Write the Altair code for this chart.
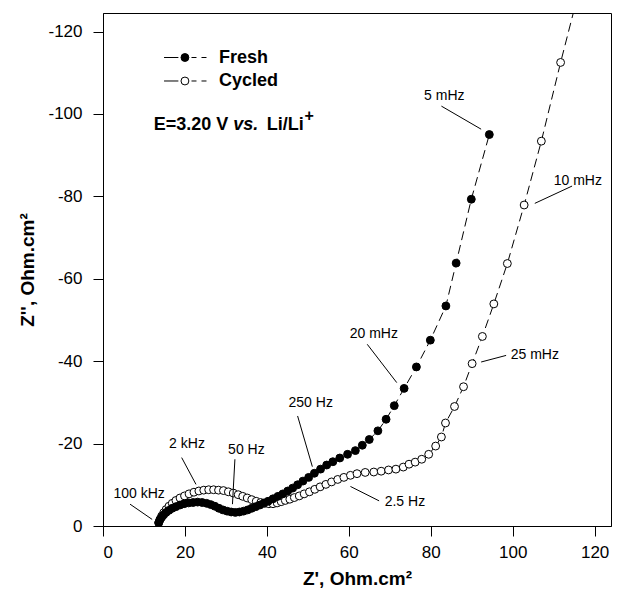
import altair as alt
import pandas as pd

FONT = "Liberation Sans"

# ---- data (Z' , Z'') ----
fresh_x = [13.6, 13.9, 14.3, 14.8, 15.4, 16.1, 16.9, 17.8, 18.8, 19.8, 20.9, 22.0, 23.1, 24.2,
           25.3, 26.3, 27.3, 28.3, 29.3, 30.3, 31.3, 32.3, 33.3, 34.3, 35.3, 36.3, 37.3, 38.3,
           39.3, 40.3, 41.5, 42.7, 43.9, 45.1, 46.3, 47.5, 48.8, 50.2, 51.6, 53.1, 54.6, 56.1,
           57.8, 59.7, 61.6, 63.3, 65.0, 67.1, 69.1, 71.1, 73.5, 76.5, 79.9, 83.7, 86.2, 89.9, 94.3]
fresh_y = [-0.8, -1.5, -2.1, -2.7, -3.3, -3.8, -4.3, -4.7, -5.1, -5.4, -5.6, -5.7, -5.8, -5.7,
           -5.5, -5.2, -4.8, -4.3, -3.9, -3.6, -3.4, -3.3, -3.4, -3.6, -3.9, -4.3, -4.7, -5.1,
           -5.6, -6.0, -6.6, -7.2, -7.8, -8.5, -9.2, -10.0, -10.9, -11.8, -12.8, -13.8, -14.8, -15.6,
           -16.5, -17.4, -18.3, -19.6, -21.0, -23.1, -25.9, -29.2, -33.4, -38.6, -45.1, -53.4, -63.8, -79.3, -95.0]

cycled_x = [13.6, 13.9, 14.3, 14.8, 15.4, 16.1, 16.9, 17.8, 18.8, 19.9, 21.0, 22.2, 23.4, 24.6,
            25.8, 27.0, 28.2, 29.4, 30.6, 31.8, 33.0, 34.1, 35.2, 36.3, 37.4, 38.5, 39.5, 40.5,
            41.5, 42.5, 43.5, 44.5, 45.6, 46.7, 47.9, 49.1, 50.4, 51.7, 53.0, 54.4, 55.8, 57.3,
            58.8, 60.4, 62.0, 64.0, 66.1, 67.9, 69.7, 71.5, 73.3, 74.7, 76.2, 77.8, 79.5, 81.2,
            82.6, 83.6, 85.8, 88.0, 90.1, 92.6, 95.4, 98.7, 102.8, 107.0, 111.7, 117.5]
cycled_y = [-0.8, -1.6, -2.4, -3.2, -4.0, -4.8, -5.5, -6.2, -6.8, -7.3, -7.8, -8.2, -8.5, -8.7,
            -8.8, -8.8, -8.7, -8.6, -8.3, -8.0, -7.6, -7.2, -6.8, -6.4, -6.0, -5.7, -5.5, -5.4,
            -5.4, -5.6, -5.9, -6.2, -6.5, -6.9, -7.3, -7.8, -8.3, -8.9, -9.5, -10.1, -10.7, -11.3,
            -11.8, -12.3, -12.7, -13.0, -13.1, -13.3, -13.6, -13.8, -14.3, -15.0, -15.5, -16.2, -17.4, -19.4,
            -21.6, -25.0, -29.0, -33.8, -39.4, -46.0, -53.9, -63.7, -77.9, -93.4, -112.5, -135.0]

# ---- frequency annotations ----
ann_text = ["5 mHz", "10 mHz", "20 mHz", "25 mHz", "2.5 Hz", "250 Hz", "50 Hz", "2 kHz", "100 kHz"]
ann_x = [83.3, 115.9, 66.1, 105.4, 73.7, 50.7, 35.0, 20.5, 8.8]
ann_y = [-104.3, -83.7, -46.5, -41.4, -5.8, -29.8, -18.4, -19.8, -7.7]
lead_x1 = [82.6, 114.5, 64.5, 98.4, 60.4, 47.5, 32.2, 19.2, 6.6]
lead_y1 = [-101.9, -82.5, -44.1, -41.4, -9.6, -26.7, -16.2, -16.6, -5.3]
lead_x2 = [92.3, 105.4, 71.7, 92.3, 67.4, 51.1, 31.6, 22.7, 12.0]
lead_y2 = [-96.3, -78.3, -34.8, -39.8, -6.1, -14.4, -5.3, -10.1, -1.6]

legend_labels = ["Fresh", "Cycled"]
legend_y = [-113.7, -108.0]

# electrode potential note, in pieces (bold / bold-italic / bold / superscript)
pot_text = ["E=3.20 V", "vs.", "Li/Li"]
pot_x = [12.4, 31.8, 40.0]
pot_style = ["normal", "italic", "normal"]
pot_y = -97.3
sup_x, sup_y = 50.3, -99.6

x_ticks = [0, 20, 40, 60, 80, 100, 120]
y_ticks = [0, -20, -40, -60, -80, -100, -120]

# ---- tables ----
df = pd.concat([
    pd.DataFrame({"x": fresh_x, "y": fresh_y, "series": "Fresh", "i": range(len(fresh_x))}),
    pd.DataFrame({"x": cycled_x, "y": cycled_y, "series": "Cycled", "i": range(len(cycled_x))}),
])
ann = pd.DataFrame({"t": ann_text, "x": ann_x, "y": ann_y})
lead = pd.DataFrame({"x": lead_x1, "y": lead_y1, "x2": lead_x2, "y2": lead_y2})
leg = pd.DataFrame({"label": legend_labels, "y": legend_y,
                    "xa": 14.9, "xb": 18.4, "xm": 20.0, "xc": 21.6, "xd": 25.6, "xt": 28.3})
pot = pd.DataFrame({"t": pot_text, "x": pot_x, "y": pot_y, "st": pot_style})
sup = pd.DataFrame({"t": ["+"], "x": [sup_x], "y": [sup_y]})

xs = alt.Scale(domain=[0, 124], nice=False, zero=False)
ys = alt.Scale(domain=[0, -124.5], nice=False, zero=False)

X = alt.X("x:Q", scale=xs, axis=alt.Axis(values=x_ticks, title="Z', Ohm.cm²"))
Y = alt.Y("y:Q", scale=ys, axis=alt.Axis(values=y_ticks, title="Z'', Ohm.cm²",
                                         labelExpr="'' + datum.value"))

base = alt.Chart(df)
lines = base.mark_line(color="black", strokeWidth=1, strokeDash=[9, 5], clip=True).encode(
    x=X, y=Y, detail="series:N", order="i:Q")
cyc_pts = base.transform_filter(alt.datum.series == "Cycled").mark_point(
    shape="circle", size=62, filled=True, fill="white", stroke="black", strokeWidth=1,
    opacity=1, clip=True).encode(x=X, y=Y)
fr_pts = base.transform_filter(alt.datum.series == "Fresh").mark_point(
    shape="circle", size=62, filled=True, fill="black", stroke="black", strokeWidth=1,
    opacity=1, clip=True).encode(x=X, y=Y)

ann_txt = alt.Chart(ann).mark_text(font=FONT, fontSize=14, align="center", baseline="middle",
                                   color="black").encode(x=X, y=Y, text="t:N")
ann_rules = alt.Chart(lead).mark_rule(color="black", strokeWidth=1).encode(
    x=X, y=Y, x2="x2:Q", y2="y2:Q")

# legend (drawn inside plot)
lchart = alt.Chart(leg)
leg_solid = lchart.mark_rule(color="black", strokeWidth=1).encode(
    x=alt.X("xa:Q", scale=xs), x2="xb:Q", y=alt.Y("y:Q", scale=ys))
leg_dash = lchart.mark_rule(color="black", strokeWidth=1, strokeDash=[5, 5]).encode(
    x=alt.X("xc:Q", scale=xs), x2="xd:Q", y=alt.Y("y:Q", scale=ys))
leg_pt = lchart.mark_point(shape="circle", size=62, filled=True, stroke="black", strokeWidth=1,
                           opacity=1).encode(
    x=alt.X("xm:Q", scale=xs), y=alt.Y("y:Q", scale=ys),
    fill=alt.Fill("label:N", scale=alt.Scale(domain=["Fresh", "Cycled"], range=["black", "white"]),
                  legend=None))
leg_txt = lchart.mark_text(font=FONT, fontSize=18, fontWeight="bold", align="left",
                           baseline="middle", color="black").encode(
    x=alt.X("xt:Q", scale=xs), y=alt.Y("y:Q", scale=ys), text="label:N")

pot_n = alt.Chart(pot).transform_filter(alt.datum.st == "normal").mark_text(
    font=FONT, fontSize=18, fontWeight="bold", align="left", baseline="middle", color="black"
).encode(x=X, y=Y, text="t:N")
pot_i = alt.Chart(pot).transform_filter(alt.datum.st == "italic").mark_text(
    font=FONT, fontSize=18, fontWeight="bold", fontStyle="italic", align="left",
    baseline="middle", color="black").encode(x=X, y=Y, text="t:N")
sup_t = alt.Chart(sup).mark_text(
    font=FONT, fontSize=16, fontWeight="bold", align="center", baseline="middle", color="black"
).encode(x=X, y=Y, text="t:N")

chart = alt.layer(
    lines, cyc_pts, fr_pts, ann_rules, ann_txt,
    leg_solid, leg_dash, leg_pt, leg_txt, pot_n, pot_i, sup_t
).properties(
    width=508, height=513,
    autosize=alt.AutoSizeParams(type="none"),
    padding={"left": 95, "top": 5, "right": 1, "bottom": 67},
).configure_view(
    stroke="black", strokeWidth=1
).configure_axis(
    grid=False, domainColor="black", tickColor="black", tickSize=10,
    labelFont=FONT, labelFontSize=17, labelColor="black",
    titleFont=FONT, titleFontSize=19, titleFontWeight="bold", titleColor="black",
).configure_axisX(
    labelPadding=8, titlePadding=9
).configure_axisY(
    labelPadding=11, titlePadding=10
)

chart.save("out.html", embed_options={"renderer": "svg", "actions": False})
